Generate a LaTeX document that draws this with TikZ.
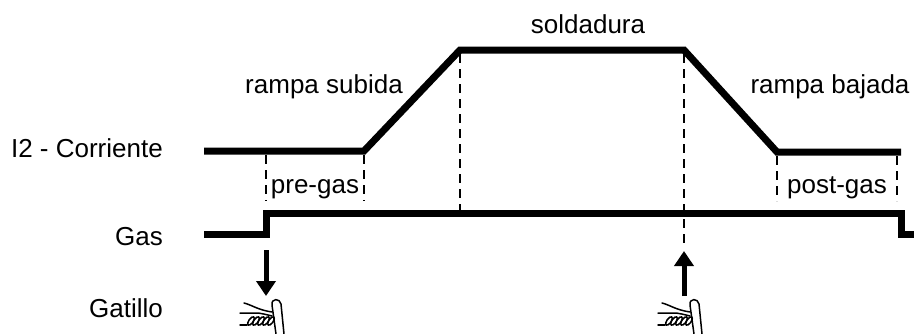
\documentclass[tikz,border=0pt]{standalone}
\usepackage{fontspec}
\setmainfont{Liberation Sans}
\usetikzlibrary{arrows.meta}
\tikzset{
  wave/.style={line width=7pt, line join=miter},
  guide/.style={line width=1.8pt, dash pattern=on 9pt off 6pt},
  lbl/.style={inner sep=0pt, anchor=base, font=\fontsize{26}{30}\selectfont},
  rlbl/.style={inner sep=0pt, anchor=base east, font=\fontsize{26}{30}\selectfont},
  trig/.style={line width=5pt, -{Triangle[length=15pt,width=19pt]}},
  handline/.style={line width=1.5pt, line cap=round, line join=round},
  hand/.pic={
    \draw[handline] (10,36) -- (6,7) .. controls (5,0) and (14,0) .. (15,6) -- (18,36);
    \draw[handline] (-22,5) .. controls (-14,7) and (-8,12) .. (6,14);
    \draw[handline] (-26,15) -- (-8,15) .. controls (-2,16) .. (6,18);
    \foreach \i in {0,...,4}
      \draw[handline, rotate around={55:(-15+5*\i,23)}] (-15+5*\i,23) ellipse (5pt and 2.2pt);
    \draw[handline] (-26,27) -- (-19,27);
  }
}
\begin{document}
\begin{tikzpicture}[x=1pt,y=-1pt]
\useasboundingbox (0,0) rectangle (914,333);
% current waveform
\coordinate (c1) at (204,151);
\coordinate (c2) at (364,151);
\coordinate (c3) at (460,50);
\coordinate (c4) at (684,50);
\coordinate (c5) at (777,152);
\coordinate (c6) at (901,152);
\draw[wave] (c1) -- (c2) -- (c3) -- (c4) -- (c5) -- (c6);
% gas waveform
\coordinate (g1) at (204,234);
\coordinate (g2) at (266,234);
\coordinate (g3) at (266,213);
\coordinate (g4) at (901,213);
\coordinate (g5) at (901,234);
\coordinate (g6) at (914,234);
\draw[wave] (g1) -- (g2) -- (g3) -- (g4) -- (g5) -- (g6);
% guide lines
\coordinate (d1t) at (266,155); \coordinate (d1b) at (266,201);
\coordinate (d2t) at (364,155); \coordinate (d2b) at (364,201);
\coordinate (d3t) at (460,54);  \coordinate (d3b) at (460,210);
\coordinate (d4t) at (684,54);  \coordinate (d4b) at (684,246);
\coordinate (d5t) at (777,156); \coordinate (d5b) at (777,201);
\coordinate (d6t) at (897,156); \coordinate (d6b) at (897,201);
\foreach \i in {1,...,6} \draw[guide] (d\i t) -- (d\i b);
% labels
\node[rlbl] (lc) at (163,157) {I2 - Corriente};
\node[rlbl] (lg) at (163,245) {Gas};
\node[rlbl] (lt) at (163,317) {Gatillo};
\node[lbl] (rs) at (324,93) {rampa subida};
\node[lbl] (sd) at (588,33) {soldadura};
\node[lbl] (rb) at (830,93) {rampa bajada};
\node[lbl] (pg) at (315,193) {pre-gas};
\node[lbl] (ps) at (837,193) {post-gas};
% trigger arrows
\coordinate (a1s) at (266,250); \coordinate (a1e) at (266,296);
\coordinate (a2s) at (684,296); \coordinate (a2e) at (684,251);
\draw[trig] (a1s) -- (a1e);
\draw[trig] (a2s) -- (a2e);
% hands
\pic at (266,298) {hand};
\pic at (684,298) {hand};
\end{tikzpicture}
\end{document}
